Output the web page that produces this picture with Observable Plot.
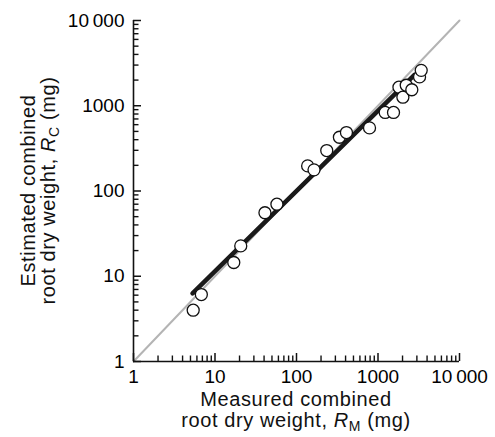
<!DOCTYPE html>
<html><head><meta charset="utf-8">
<script src="https://cdn.jsdelivr.net/npm/d3@7"></script>
<script src="https://cdn.jsdelivr.net/npm/@observablehq/plot@0.6"></script>
<style>body{margin:0;background:#fff} svg{display:block}</style>
</head><body><div id="chart"></div>
<script>
// Measured (x) and estimated (y) combined root dry weight, mg
const measured  = [5.4, 6.8, 17, 20.7, 41, 57.5, 137, 164, 235, 336, 410, 787, 1225, 1550, 1807, 2020, 2220, 2600, 3235, 3390];
const estimated = [4.0, 6.1, 14.5, 22.7, 55.6, 70, 197, 177, 298, 427, 485, 550, 834, 834, 1650, 1260, 1740, 1540, 2180, 2600];
// Fitted regression line end points
const fitX = [5.3, 2800];
const fitY = [6.3, 2300];
// 1:1 line
const identity = [1, 10000];
// Tick labels
const majorTicks = [1, 10, 100, 1000, 10000];
const minorTicks = [1, 10, 100, 1000].flatMap(d => [2,3,4,5,6,7,8,9].map(k => d * k));
const fmt = d => d === 10000 ? "10\u2009000" : String(d);

const W = 495, H = 437, mt = 20, mb = 76, ml = 133, mr = 36;
const ph = H - mt - mb, pw = W - ml - mr;
const font = "'Liberation Sans', Arial, Helvetica, sans-serif";

const pts = measured.map((m, i) => ({x: m, y: estimated[i]}));
const idLine = identity.map(v => ({x: v, y: v}));
const fit = fitX.map((v, i) => ({x: v, y: fitY[i]}));

const plot = Plot.plot({
  width: W, height: H,
  marginTop: mt, marginBottom: mb, marginLeft: ml, marginRight: mr,
  style: {fontFamily: font, fontSize: "19px", background: "#fff", color: "#000", overflow: "visible"},
  x: {type: "log", domain: [1, 10000]},
  y: {type: "log", domain: [1, 10000]},
  marks: [
    Plot.line(idLine, {x: "x", y: "y", stroke: "#b4b4b4", strokeWidth: 2}),
    Plot.line(fit, {x: "x", y: "y", stroke: "#1a1a1a", strokeWidth: 4.5}),
    Plot.dot(pts, {x: "x", y: "y", r: 6, fill: "white", stroke: "#111", strokeWidth: 1.3}),
    Plot.tickX(minorTicks, {x: d => d, insetTop: ph - 5.5, stroke: "#111", strokeWidth: 1.4}),
    Plot.tickX(majorTicks, {x: d => d, insetTop: ph - 8, stroke: "#111", strokeWidth: 1.5}),
    Plot.tickY(minorTicks, {y: d => d, insetRight: pw - 5.5, stroke: "#111", strokeWidth: 1.4}),
    Plot.tickY(majorTicks, {y: d => d, insetRight: pw - 8, stroke: "#111", strokeWidth: 1.5}),
    Plot.ruleY([1], {stroke: "#111", strokeWidth: 1.6}),
    Plot.ruleX([1], {stroke: "#111", strokeWidth: 1.6}),
    Plot.axisX({ticks: majorTicks, tickSize: 0, tickPadding: 8, tickFormat: fmt, label: null, fontSize: 19}),
    Plot.axisY({ticks: majorTicks, tickSize: 0, tickPadding: 9, tickFormat: fmt, label: null, fontSize: 19})
  ]
});

const svg = d3.select(plot);
const cx = ml + pw / 2;
function styled(t) {
  return t.attr("text-anchor", "middle").attr("font-family", font).attr("font-size", 20)
    .attr("letter-spacing", 0.6).attr("fill", "#111");
}
function richLabel(g, y, sub) {
  const t = styled(g.append("text").attr("x", 0).attr("y", y));
  t.append("tspan").text("root dry weight, ");
  t.append("tspan").attr("font-style", "italic").text("R");
  t.append("tspan").attr("font-size", 14).attr("dy", 4).text(sub);
  t.append("tspan").attr("dy", -4).text(" (mg)");
}
const gx = svg.append("g").attr("transform", `translate(${cx},406)`);
styled(gx.append("text")).text("Measured combined");
richLabel(gx, 21, "M");

const gy = svg.append("g").attr("transform", `translate(35,${mt + ph / 2}) rotate(-90)`);
styled(gy.append("text")).text("Estimated combined");
richLabel(gy, 20, "C");

document.getElementById("chart").appendChild(plot);
</script>
</body></html>
